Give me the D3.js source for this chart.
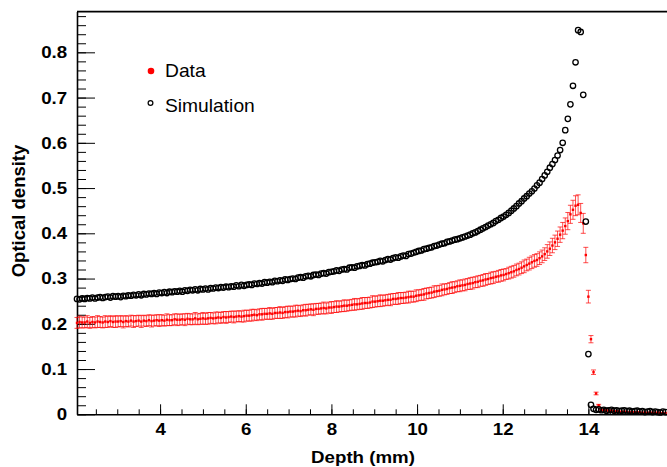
<!DOCTYPE html>
<html>
<head>
<meta charset="utf-8">
<script src="https://cdn.jsdelivr.net/npm/d3@7"></script>
<style>
  body { margin: 0; background: #fff; }
  svg { display: block; font-family: "Liberation Sans", Arial, Helvetica, sans-serif; }
</style>
</head>
<body>
<div id="chart"></div>
<script>
// depth bins (mm): start + step, one value per bin below
const depthStart = 2.06;
const depthStep = 0.06;

// simulation, optical density per bin
const simOD = [
  .255,.254,.256,.255,.257,.256,.258,.256,.258,.259,.257,.259,.260,.258,.261,.260,
  .261,.259,.262,.261,.263,.262,.264,.263,.265,.263,.266,.265,.267,.266,.268,.266,.269,
  .268,.270,.268,.271,.270,.272,.271,.273,.271,.274,.273,.275,.274,.276,.274,.277,.276,
  .278,.276,.279,.278,.280,.279,.281,.280,.282,.281,.283,.282,.285,.283,.286,.284,
  .286,.287,.286,.289,.288,.290,.289,.292,.291,.293,.292,.295,.294,.296,.295,.298,.297,
  .299,.300,.299,.302,.303,.302,.305,.306,.305,.308,.309,.308,.311,.312,.311,.314,.315,
  .316,.318,.317,.320,.321,.320,.324,.325,.324,.327,.328,.330,.329,.332,.333,.335,
  .336,.337,.339,.338,.341,.343,.342,.345,.347,.346,.349,.351,.350,.354,.355,.357,.359,
  .361,.362,.365,.366,.368,.369,.372,.373,.375,.377,.378,.381,.382,.384,.386,.387,.389,
  .391,.393,.395,.397,.400,.402,.405,.408,.411,.414,.417,.420,.423,.427,.430,.434,
  .437,.441,.445,.450,.455,.460,.466,
  .471,.477,.482,.488,.493,.499,.506,.512,.520,
  .528,.536,.545,.553,.562,.572,.584,.600,.628,.653,.685,.726,.778,.849,.845,.706,.426,.133,.021,
  .012,.010,.011,.009,.010,.008,.009,.010,.008,.009,.007,.008,.009,.007,.008,
  .006,.007,.008,.006,.007,.005,.006,.007,.005,.006,.005,.004,.006,.005
];

// measured data, optical density per bin
const dataOD = [
  .202,.204,.203,.203,.205,.202,.204,.203,.205,.204,.203,.205,.204,.206,.204,.205,
  .205,.206,.204,.206,.205,.207,.205,.206,.207,.205,.207,.206,.208,.206,.207,.208,.207,
  .208,.207,.209,.208,.208,.210,.209,.209,.210,.209,.211,.210,.210,.212,.210,.211,.212,
  .211,.212,.213,.212,.213,.214,.213,.215,.214,.215,.216,.215,.216,.217,.216,.217,
  .218,.218,.219,.220,.219,.221,.221,.222,.222,.223,.222,.224,.224,.225,.224,.226,.226,
  .227,.227,.228,.229,.228,.230,.230,.231,.232,.231,.233,.233,.234,.235,.234,.236,.236,
  .237,.238,.238,.239,.240,.240,.241,.242,.243,.243,.244,.245,.246,.246,.247,.249,
  .249,.250,.251,.251,.252,.253,.253,.255,.255,.256,.257,.257,.258,.259,.260,.260,.262,
  .263,.264,.265,.267,.268,.269,.271,.272,.273,.275,.276,.277,.279,.280,.281,.283,.284,
  .285,.286,.288,.289,.290,.292,.293,.295,.296,.298,.299,.301,.302,.304,.305,.307,
  .308,.310,.312,.314,.316,.319,.321,.324,.327,.330,.333,.336,.339,.341,.345,.349,
  .354,.360,.366,.373,.380,.388,.397,.406,.416,.427,.442,.452,.461,.463,
  .445,.422,.352,.260,.166,.093,.046,.020,
  .010,.008,.009,.007,.008,.006,.007,.006,.005,.006,.005,.004,.005,
  .004,.005,.004,.003,.004,.003,.004,.003,.003,.004,.003,.002,.003
];

// data error (+/-) per bin
const dataErr = [
  .012,.013,.012,.012,.013,.012,.012,.012,.013,.012,.012,.013,.012,.012,.012,.013,
  .012,.012,.013,.012,.012,.012,.013,.012,.012,.013,.012,.012,.012,.013,.012,.012,.013,
  .012,.012,.013,.012,.012,.012,.013,.012,.012,.013,.012,.012,.012,.013,.012,.012,.013,
  .012,.013,.012,.012,.013,.012,.012,.012,.013,.012,.012,.013,.012,.012,.012,.013,
  .012,.012,.013,.012,.012,.012,.013,.012,.012,.013,.012,.012,.012,.013,.012,.012,.013,
  .012,.012,.013,.012,.012,.012,.013,.012,.012,.013,.012,.012,.012,.013,.012,.012,.013,
  .012,.013,.012,.012,.013,.012,.012,.012,.013,.012,.012,.013,.012,.012,.012,.013,
  .012,.012,.013,.012,.012,.012,.013,.012,.012,.013,.012,.012,.012,.013,.012,.012,.013,
  .012,.012,.013,.012,.012,.012,.013,.012,.012,.013,.012,.012,.012,.013,.012,.012,.013,
  .012,.013,.012,.013,.013,.012,.013,.012,.013,.013,.012,.013,.013,.012,.013,.013,
  .013,.012,.013,.013,.013,.013,.013,.013,.014,.013,.014,.014,.014,.014,.014,.014,
  .014,.015,.015,.016,.016,.017,.017,.018,.018,.019,.020,.021,.022,.022,
  .021,.022,.017,.014,.008,.005,.003,.002,
  .001,.001,.001,.001,.001,.001,.001,.001,.001,.001,.001,.001,.001,
  .001,.001,.001,.001,.001,.001,.001,.001,.001,.001,.001,.001,.001
];

const xTicks = [4, 6, 8, 10, 12, 14];
const yTicks = [0, 0.1, 0.2, 0.3, 0.4, 0.5, 0.6, 0.7, 0.8];
const legendLabels = ["Data", "Simulation"];

const width = 667, height = 467;
const svg = d3.select("#chart").append("svg")
    .attr("width", width)
    .attr("height", height);

const x = d3.scaleLinear().domain([2.06, 16.06]).range([77, 77 + 14 * 42.83]);
const y = d3.scaleLinear().domain([0, 0.89]).range([414.3, 11.6]);

const depth = simOD.map((_, i) => depthStart + i * depthStep);
const sim = simOD.map((v, i) => ({d: depth[i], v: v}));
const data = dataOD.map((v, i) => ({d: depth[i], v: v, e: dataErr[i]}));

//minor ticks
const xMinor = d3.range(2.5, 16.01, 0.5);
const yMinor = d3.range(0, 0.89, 0.02);

const xAxisMinor = svg.append("g")
    .attr("transform", `translate(0,${y(0)})`)
    .call(d3.axisBottom(x).tickValues(xMinor).tickSize(-5).tickSizeOuter(0).tickFormat(""));
xAxisMinor.select(".domain").remove();

const xAxis = svg.append("g")
    .attr("transform", `translate(0,${y(0)})`)
    .call(d3.axisBottom(x).tickValues(xTicks).tickSize(-10).tickSizeOuter(0).tickPadding(9)
        .tickFormat(d3.format("d")));

const yAxisMinor = svg.append("g")
    .attr("transform", `translate(${x.range()[0]},0)`)
    .call(d3.axisLeft(y).tickValues(yMinor).tickSize(-9).tickSizeOuter(0).tickFormat(""));
yAxisMinor.select(".domain").remove();

const yAxis = svg.append("g")
    .attr("transform", `translate(${x.range()[0]},0)`)
    .call(d3.axisLeft(y).tickValues(yTicks).tickSize(-18).tickSizeOuter(0).tickPadding(9)
        .tickFormat(d => d === 0 ? "0" : d3.format(".1f")(d)));

svg.selectAll(".tick line").attr("stroke", "#000").attr("stroke-width", 1);
svg.selectAll(".domain").attr("stroke", "#000").attr("stroke-width", 1.6);
svg.selectAll(".tick text")
    .attr("font-family", "Liberation Sans, Arial, sans-serif")
    .attr("font-size", 17)
    .attr("font-weight", "bold")
    .attr("fill", "#000")
    .attr("transform", "scale(1.1,1)");

// top frame
svg.append("line")
    .attr("x1", x.range()[0]).attr("x2", width)
    .attr("y1", y.range()[1]).attr("y2", y.range()[1])
    .attr("stroke", "#000").attr("stroke-width", 1.6);

// data: error bars + markers
const red = "#ff0000";
const errG = svg.append("g").attr("stroke", red).attr("stroke-width", 0.7);
errG.selectAll(".ev")
    .data(data)
    .join("line")
    .attr("x1", d => x(d.d)).attr("x2", d => x(d.d))
    .attr("y1", d => y(d.v - d.e)).attr("y2", d => y(d.v + d.e));
errG.selectAll(".cap-top")
    .data(data)
    .join("line")
    .attr("class", "cap-top")
    .attr("x1", d => x(d.d) - 2.5).attr("x2", d => x(d.d) + 2.5)
    .attr("y1", d => y(d.v + d.e)).attr("y2", d => y(d.v + d.e));
errG.selectAll(".cap-bot")
    .data(data)
    .join("line")
    .attr("class", "cap-bot")
    .attr("x1", d => x(d.d) - 2.5).attr("x2", d => x(d.d) + 2.5)
    .attr("y1", d => y(d.v - d.e)).attr("y2", d => y(d.v - d.e));
svg.append("g").selectAll("rect")
    .data(data)
    .join("rect")
    .attr("x", d => x(d.d) - 1.2)
    .attr("y", d => y(d.v) - 1.2)
    .attr("width", 2.4).attr("height", 2.4)
    .attr("fill", red);

// simulation: open circles
svg.append("g").selectAll("circle")
    .data(sim)
    .join("circle")
    .attr("cx", d => x(d.d))
    .attr("cy", d => y(d.v))
    .attr("r", 2.7)
    .attr("fill", "none")
    .attr("stroke", "#000")
    .attr("stroke-width", 1.3);

// legend
const legend = svg.append("g");
legend.append("circle").attr("cx", 151).attr("cy", 71).attr("r", 3.3).attr("fill", red);
legend.append("circle").attr("cx", 150.5).attr("cy", 103).attr("r", 2.4)
    .attr("fill", "none").attr("stroke", "#000").attr("stroke-width", 1.2);
legend.selectAll("text")
    .data(legendLabels)
    .join("text")
    .attr("transform", (d, i) => `translate(165,${77 + i * 34.5}) scale(1.1,1)`)
    .attr("font-size", 17.5)
    .attr("fill", "#000")
    .text(d => d);

// axis titles
svg.append("text")
    .attr("transform", "translate(363,463) scale(1.1,1)")
    .attr("text-anchor", "middle")
    .attr("font-size", 17)
    .attr("font-weight", "bold")
    .text("Depth (mm)");

svg.append("text")
    .attr("transform", "translate(25,211) rotate(-90)")
    .attr("text-anchor", "middle")
    .attr("font-size", 18.5)
    .attr("font-weight", "bold")
    .text("Optical density");
</script>
</body>
</html>
